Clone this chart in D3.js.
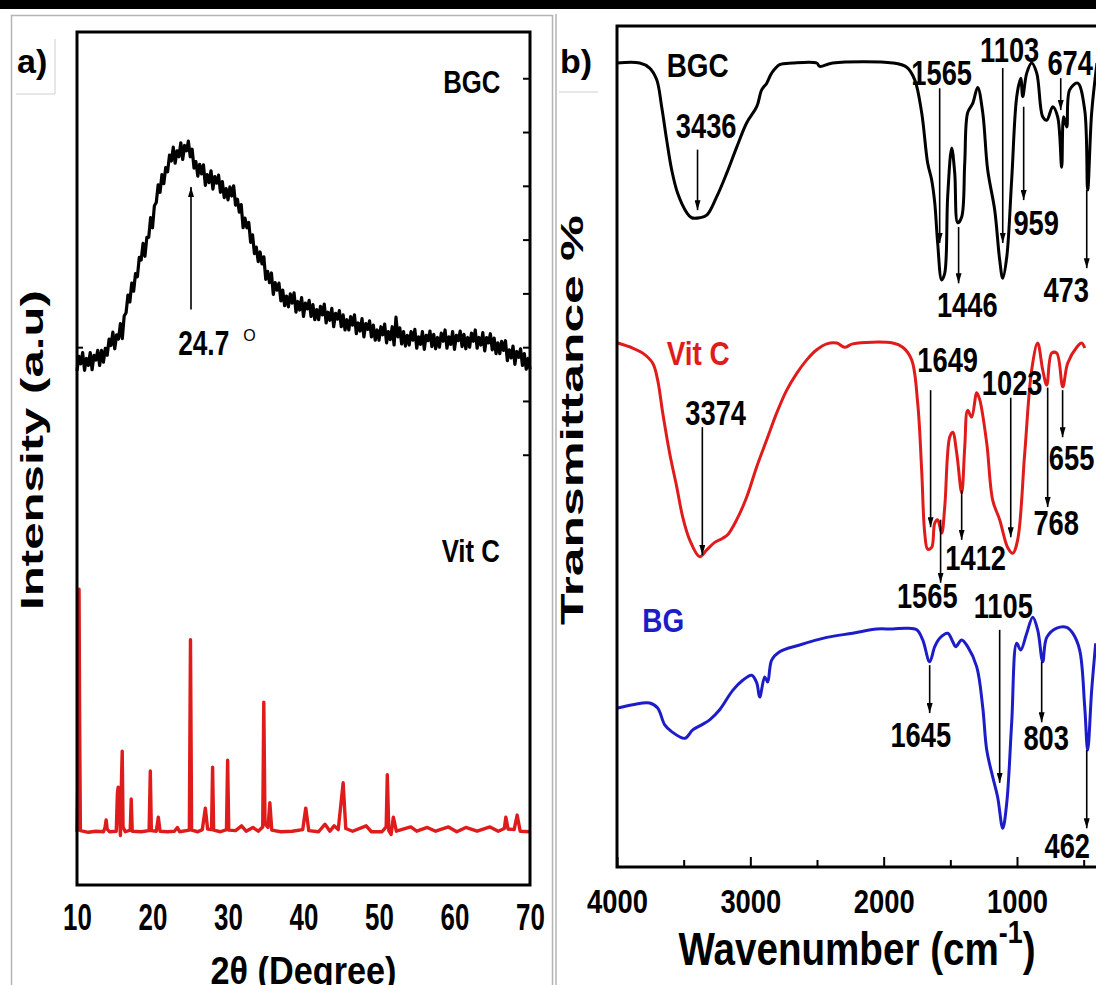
<!DOCTYPE html>
<html>
<head>
<meta charset="utf-8">
<script src="https://cdn.jsdelivr.net/npm/d3@7"></script>
<style>
  body { margin: 0; background: #fff; }
  svg text { font-family: "Liberation Sans", Arial, sans-serif; font-weight: bold; }
</style>
</head>
<body>
<div id="chart"></div>
<script>
// ---------------- panel a : XRD ----------------
const xrdTicks = [10, 20, 30, 40, 50, 60, 70];
const xrdRightTicks = [80, 90, 100, 110, 120, 130, 140, 150];
const xrdLeftTicks = [100];

// BGC pattern, sampled every 0.25 deg from 10 deg
const bgcXrdStart = 10, bgcXrdStep = 0.25;
const bgcXrd = [
  95.6, 98.3, 96.9, 99.0, 95.7, 97.9, 96.6, 99.0, 95.8, 98.5, 97.6, 99.4,
  96.6, 99.4, 97.2, 99.8, 98.5, 101.5, 100.3, 102.8, 99.7, 102.3, 101.5, 104.4,
  101.6, 105.8, 106.4, 109.7, 108.4, 111.9, 110.4, 113.7, 113.1, 116.7, 116.2, 119.3,
  116.9, 120.4, 120.4, 124.1, 122.2, 126.3, 126.9, 130.2, 128.8, 132.1, 130.4, 133.4,
  132.6, 135.7, 134.6, 137.2, 134.2, 136.5, 135.4, 138.0, 134.9, 137.5, 136.5, 138.3,
  135.4, 136.8, 133.3, 134.5, 131.8, 134.0, 132.2, 133.9, 130.1, 132.1, 130.6, 132.8,
  129.4, 131.7, 130.5, 132.0, 128.8, 130.8, 127.8, 129.5, 127.4, 129.8, 128.1, 130.0,
  126.4, 127.5, 125.1, 126.5, 122.2, 124.0, 122.2, 123.2, 119.5, 120.9, 117.4, 118.6,
  115.9, 117.7, 115.5, 116.8, 112.6, 114.1, 112.0, 113.8, 109.8, 112.0, 110.6, 111.9,
  108.6, 110.6, 107.7, 109.5, 107.5, 109.9, 108.2, 110.1, 106.5, 108.5, 106.9, 109.2,
  105.7, 108.2, 107.1, 108.7, 105.7, 107.9, 105.1, 107.0, 105.1, 107.6, 106.0, 108.0,
  104.5, 106.5, 105.0, 107.2, 103.8, 106.3, 105.2, 106.8, 103.8, 106.0, 103.2, 105.1,
  103.2, 105.7, 104.1, 106.0, 102.5, 104.5, 103.0, 105.3, 101.9, 104.4, 103.3, 104.9,
  101.9, 104.1, 101.3, 103.2, 101.3, 103.8, 102.3, 104.3, 100.8, 102.9, 101.4, 103.8,
  100.4, 105.6, 101.9, 103.6, 100.6, 102.9, 100.2, 102.2, 100.4, 102.9, 101.3, 103.3,
  99.8, 101.9, 100.5, 102.9, 99.6, 102.2, 101.2, 103.0, 100.1, 102.4, 99.7, 101.8,
  100.0, 102.6, 101.1, 103.2, 99.8, 101.9, 100.5, 102.9, 99.6, 102.2, 101.2, 103.0,
  100.1, 102.4, 99.7, 101.8, 100.0, 102.6, 101.1, 103.2, 99.8, 101.8, 100.4, 102.7,
  99.3, 101.8, 100.8, 102.5, 99.5, 101.7, 98.8, 100.8, 98.8, 101.1, 99.4, 101.2,
  97.5, 99.5, 98.0, 100.2, 96.8, 99.2, 98.1, 99.7, 96.6, 98.8, 95.9, 97.9,
  95.9
];

// Vit C pattern [2theta, intensity]
const vitcXrd = [
  [10.0, 9.9], [10.12, 20], [10.2, 50], [10.27, 55.0], [10.35, 30], [10.45, 10.1],
  [11.5, 9.8], [12.5, 10.0], [13.5, 9.9], [13.7, 10.6], [13.86, 12.1], [14.0, 10.4],
  [14.3, 9.9], [15.2, 10.0], [15.35, 17.0], [15.45, 18.2], [15.55, 15.5], [15.75, 9.2],
  [15.9, 20.0], [15.99, 24.9], [16.1, 10.8], [16.4, 9.9], [17.05, 10.2], [17.18, 16.0],
  [17.32, 10.0], [18.5, 9.9], [19.55, 10.1], [19.71, 21.2], [19.85, 10.1], [20.5, 10.0],
  [20.77, 12.6], [21.0, 10.0], [22.0, 9.9], [22.9, 10.0], [23.3, 10.7], [23.6, 9.9],
  [24.88, 10.2], [25.03, 45.6], [25.18, 10.2], [26.0, 9.9], [26.6, 10.3], [27.0, 14.3],
  [27.3, 10.4], [27.82, 10.3], [27.96, 21.9], [28.1, 10.2], [29.0, 9.9], [29.8, 10.3],
  [29.95, 23.2], [30.1, 10.2], [31.0, 10.1], [31.8, 11.0], [32.4, 10.0], [33.3, 10.7],
  [34.0, 10.0], [34.6, 10.8], [34.74, 34.0], [34.9, 11.4], [35.3, 10.7], [35.54, 15.3],
  [35.8, 10.2], [37.0, 9.9], [38.5, 10.0], [39.9, 10.3], [40.3, 14.3], [40.7, 10.1],
  [42.0, 9.9], [42.85, 11.3], [43.5, 10.0], [44.05, 11.0], [44.6, 10.3], [45.25, 19.0],
  [45.6, 10.5], [46.5, 10.0], [48.3, 11.0], [49.0, 9.9], [50.4, 9.9], [50.95, 10.8],
  [51.1, 20.5], [51.3, 10.1], [51.6, 9.4], [51.9, 12.6], [52.3, 10.0], [54.2, 10.8],
  [55.0, 10.0], [56.4, 10.7], [57.5, 10.0], [59.2, 10.8], [60.3, 9.9], [61.5, 10.7],
  [63.0, 10.0], [64.7, 10.8], [65.8, 10.0], [66.6, 10.5], [66.8, 12.6], [67.1, 10.4],
  [67.9, 10.3], [68.3, 13.0], [68.7, 10.0], [70.0, 9.9]
];

const xrdPeak = { text: "24.7", at: 25.1, from: 107, to: 129.8, lx: 23.4, ly: 98.6 };
const xrdNames = [
  { text: "BGC", x: 58.5, y: 147.3 },
  { text: "Vit C", x: 58.3, y: 60.1 }
];

// ---------------- panel b : FTIR ----------------
const ftirTicks = [4000, 3000, 2000, 1000];
const ftirMinorTicks = [3500, 2500, 1500, 500];

const bgcFtir = [
  [4000, 95.6], [3830, 95.6], [3755, 95.0], [3702, 93.6], [3665, 90.4], [3627, 86.4],
  [3590, 82.9], [3545, 80.1], [3477, 77.8], [3440, 77.2], [3380, 77.2], [3327, 77.5],
  [3252, 79.7], [3177, 82.5], [3102, 85.6], [3027, 88.5], [2952, 90.4], [2915, 92.4],
  [2877, 93.2], [2840, 94.4], [2780, 95.4], [2682, 95.6], [2502, 95.6], [2480, 95.2],
  [2382, 95.6], [1932, 95.6], [1827, 95.1], [1767, 93.6], [1715, 89.7], [1670, 83.7],
  [1640, 81.7], [1617, 79.0], [1595, 74.2], [1565, 69.8], [1542, 70.6], [1520, 79.7],
  [1490, 85.5], [1467, 82.5], [1445, 76.6], [1415, 77.3], [1392, 83.7], [1370, 89.7],
  [1332, 90.8], [1295, 92.7], [1257, 89.7], [1220, 82.9], [1167, 78.1], [1130, 72.2],
  [1107, 70.0], [1077, 72.5], [1040, 81.7], [1002, 91.6], [972, 93.8], [957, 91.6],
  [927, 94.4], [890, 95.6], [852, 94.4], [807, 89.2], [777, 88.8], [732, 90.4],
  [695, 89.2], [665, 83.2], [650, 89.2], [627, 88.0], [605, 92.4], [545, 93.2],
  [492, 90.0], [470, 80.5], [440, 89.7], [400, 95.6]
];

const vitcFtir = [
  [3995, 62.3], [3882, 61.7], [3807, 61.1], [3732, 59.9], [3695, 57.9], [3657, 54.0],
  [3605, 49.2], [3552, 45.2], [3507, 41.6], [3455, 38.9], [3380, 36.9], [3327, 37.7],
  [3267, 38.6], [3207, 39.1], [3170, 39.5], [3102, 41.3], [3027, 44.0], [2952, 47.6],
  [2877, 50.8], [2802, 54.0], [2727, 56.7], [2652, 58.7], [2577, 60.3], [2502, 61.5],
  [2427, 62.2], [2352, 62.3], [2292, 61.8], [2232, 62.2], [1932, 62.3], [1857, 61.8],
  [1790, 60.3], [1745, 55.2], [1715, 47.2], [1692, 39.7], [1670, 37.8], [1640, 38.0],
  [1617, 40.9], [1595, 41.3], [1565, 39.7], [1542, 42.8], [1505, 51.1], [1482, 51.7],
  [1452, 49.2], [1415, 44.5], [1392, 49.9], [1370, 54.3], [1340, 53.5], [1302, 56.4],
  [1280, 55.6], [1227, 50.4], [1182, 43.6], [1130, 41.3], [1070, 38.0], [1032, 37.3],
  [995, 38.9], [942, 49.2], [890, 59.1], [845, 62.3], [807, 59.1], [777, 57.3],
  [740, 61.1], [702, 61.1], [657, 57.1], [620, 59.9], [552, 61.8], [515, 62.3], [492, 61.7]
];

const bgFtir = [
  [3995, 18.9], [3882, 19.3], [3755, 19.5], [3695, 18.9], [3642, 16.9], [3590, 16.1],
  [3492, 15.3], [3432, 16.3], [3365, 16.9], [3305, 17.5], [3230, 18.7], [3132, 21.0],
  [3057, 22.2], [2990, 22.8], [2952, 21.9], [2930, 20.2], [2892, 22.6], [2870, 22.0],
  [2840, 24.6], [2780, 25.6], [2630, 26.4], [2427, 27.3], [2232, 27.8], [2052, 28.3],
  [1932, 28.3], [1827, 28.4], [1752, 28.2], [1707, 27.0], [1655, 24.4], [1617, 26.2],
  [1580, 27.2], [1520, 27.8], [1482, 26.8], [1460, 26.2], [1415, 27.0], [1370, 26.2],
  [1302, 23.8], [1257, 19.0], [1227, 13.9], [1182, 10.7], [1145, 8.3], [1107, 4.6],
  [1077, 7.6], [1040, 17.1], [1002, 26.6], [972, 25.8], [927, 27.8], [882, 29.7],
  [845, 28.2], [807, 24.4], [777, 27.3], [702, 28.4], [627, 28.5], [582, 27.8],
  [530, 25.8], [492, 19.0], [470, 13.9], [440, 21.0], [410, 26.6]
];

// band labels: arrow at wavenumber "at" from/to (transmittance), label centre lx/ly
const bgcBands = [
  { text: "3436", at: 3396, from: 85.3, to: 78.1, lx: 3331, ly: 86.7 },
  { text: "1565", at: 1580, from: 92.6, to: 74.2, lx: 1565, ly: 93.0 },
  { text: "1446", at: 1438, from: 76.1, to: 69.4, lx: 1373, ly: 65.4 },
  { text: "1103", at: 1107, from: 95.0, to: 74.2, lx: 1055, ly: 95.7 },
  { text: "959", at: 950, from: 90.4, to: 79.3, lx: 856, ly: 75.1 },
  { text: "674", at: 672, from: 93.8, to: 90.0, lx: 601, ly: 94.2 },
  { text: "473", at: 477, from: 80.5, to: 71.2, lx: 631, ly: 67.2 }
];
const vitcBands = [
  { text: "3374", at: 3360, from: 52.3, to: 37.1, lx: 3260, ly: 52.6 },
  { text: "1649", at: 1648, from: 56.7, to: 40.4, lx: 1520, ly: 58.9 },
  { text: "1023", at: 1047, from: 55.8, to: 39.2, lx: 1036, ly: 56.1 },
  { text: "655", at: 658, from: 56.7, to: 51.1, lx: 590, ly: 47.2 },
  { text: "768", at: 770, from: 57.0, to: 42.8, lx: 706, ly: 39.5 },
  { text: "1412", at: 1415, from: 44.8, to: 38.9, lx: 1310, ly: 35.3 },
  { text: "1565", at: 1573, from: 41.3, to: 33.8, lx: 1673, ly: 30.8 }
];
const bgBands = [
  { text: "1105", at: 1130, from: 28.2, to: 10.0, lx: 1103, ly: 29.6 },
  { text: "1645", at: 1655, from: 24.0, to: 18.3, lx: 1722, ly: 14.3 },
  { text: "803", at: 815, from: 24.4, to: 17.2, lx: 781, ly: 13.9 },
  { text: "462", at: 477, from: 13.9, to: 4.6, lx: 623, ly: 1.1 }
];
const ftirNames = [
  { text: "BGC", x: 3627, y: 93.9, key: "bgc" },
  { text: "Vit C", x: 3627, y: 59.7, key: "vitc" },
  { text: "BG", x: 3810, y: 27.9, key: "bg" }
];

const colors = { bgc: "#000000", vitc: "#e01b1b", bg: "#1c1cc8" };

// ---------------- drawing ----------------
const svg = d3.select("#chart").append("svg")
  .attr("width", 1096).attr("height", 985);

function squeeze(sel, k) {
  sel.each(function () {
    const w = this.getComputedTextLength();
    d3.select(this).attr("textLength", (w * k).toFixed(1)).attr("lengthAdjust", "spacingAndGlyphs");
  });
  return sel;
}

svg.append("defs").append("marker")
  .attr("id", "arr").attr("viewBox", "0 0 10 6")
  .attr("refX", 10).attr("refY", 3)
  .attr("markerWidth", 10).attr("markerHeight", 6)
  .attr("markerUnits", "userSpaceOnUse").attr("orient", "auto")
  .append("path").attr("d", "M0,0L10,3L0,6z").attr("fill", "#000");

// page decoration
svg.append("rect").attr("x", 0).attr("y", 0).attr("width", 1096).attr("height", 9).attr("fill", "#000");
svg.append("rect").attr("x", 11.5).attr("y", 15.5).attr("width", 541).attr("height", 1000)
  .attr("fill", "none").attr("stroke", "#b4b4b4").attr("stroke-width", 1.5);
svg.append("line").attr("x1", 556).attr("x2", 556).attr("y1", 14).attr("y2", 985)
  .attr("stroke", "#b4b4b4").attr("stroke-width", 1.5);
svg.append("path").attr("d", "M55,39V94H16").attr("fill", "none").attr("stroke", "#d0d0d0");
svg.append("path").attr("d", "M559,92H598").attr("fill", "none").attr("stroke", "#d0d0d0");
svg.append("text").attr("x", 17).attr("y", 73).attr("font-size", 34).text("a)");
svg.append("text").attr("x", 560).attr("y", 73).attr("font-size", 34).text("b)");

// ---- panel a ----
const A = { left: 77, right: 530, top: 32, bottom: 885 };
const xA = d3.scaleLinear().domain([10, 70]).range([A.left, A.right]);
const yA = d3.scaleLinear().domain([0, 158.6]).range([A.bottom, A.top]);
const gA = svg.append("g");

gA.append("path").datum(vitcXrd)
  .attr("d", d3.line().x(d => xA(d[0])).y(d => yA(d[1])))
  .attr("fill", "none").attr("stroke", colors.vitc).attr("stroke-width", 3.4)
  .attr("stroke-linejoin", "round");

gA.append("path").datum(bgcXrd)
  .attr("d", d3.line().x((d, i) => xA(bgcXrdStart + i * bgcXrdStep)).y(d => yA(d)))
  .attr("fill", "none").attr("stroke", colors.bgc).attr("stroke-width", 3.2)
  .attr("stroke-linejoin", "round");

gA.append("rect").attr("x", A.left).attr("y", A.top)
  .attr("width", A.right - A.left).attr("height", A.bottom - A.top)
  .attr("fill", "none").attr("stroke", "#000").attr("stroke-width", 3);

const axA = gA.append("g").attr("transform", `translate(0,${A.bottom})`)
  .call(d3.axisBottom(xA).tickValues(xrdTicks).tickFormat(d3.format("d")).tickSize(0).tickPadding(19));
axA.select(".domain").remove();
axA.selectAll("text").attr("font-size", 36).attr("fill", "#000");
squeeze(axA.selectAll("text"), 0.72);

gA.append("g").attr("transform", `translate(${A.right},0)`)
  .call(d3.axisLeft(yA).tickValues(xrdRightTicks).tickSize(7).tickFormat(""))
  .call(g => g.select(".domain").remove())
  .selectAll("line").attr("stroke-width", 2);
gA.append("g").attr("transform", `translate(${A.left},0)`)
  .call(d3.axisRight(yA).tickValues(xrdLeftTicks).tickSize(6).tickFormat(""))
  .call(g => g.select(".domain").remove())
  .selectAll("line").attr("stroke-width", 2);

gA.append("line")
  .attr("x1", xA(xrdPeak.at)).attr("x2", xA(xrdPeak.at))
  .attr("y1", yA(xrdPeak.from)).attr("y2", yA(xrdPeak.to))
  .attr("stroke", "#000").attr("stroke-width", 1.6).attr("marker-end", "url(#arr)");
const pk = gA.append("text").attr("x", xA(xrdPeak.lx)).attr("y", yA(xrdPeak.ly))
  .attr("font-size", 35).text(xrdPeak.text);
squeeze(pk, 0.75);
gA.append("text").attr("x", xA(xrdPeak.lx) + 65).attr("y", yA(xrdPeak.ly) - 14)
  .attr("font-size", 16).style("font-weight", "normal").text("O");

xrdNames.forEach(n => {
  const t = gA.append("text").attr("x", xA(n.x)).attr("y", yA(n.y)).attr("font-size", 31).text(n.text);
  squeeze(t, 0.83);
});

const labA = gA.append("text").attr("x", (A.left + A.right) / 2).attr("y", 984)
  .attr("text-anchor", "middle").attr("font-size", 38).text("2θ (Degree)");
squeeze(labA, 0.9);

svg.append("text")
  .attr("transform", "translate(43,450) rotate(-90)")
  .attr("text-anchor", "middle").attr("font-size", 31)
  .attr("textLength", 320).attr("lengthAdjust", "spacingAndGlyphs")
  .text("Intensity (a.u)");

// ---- panel b ----
const B = { left: 617, right: 1097, top: 26, bottom: 867 };
const xB = d3.scaleLinear().domain([4000, 400]).range([B.left, B.right]);
const yB = d3.scaleLinear().domain([0, 100]).range([B.bottom, B.top]);
const gB = svg.append("g");

const ftirLine = d3.line().x(d => xB(d[0])).y(d => yB(d[1])).curve(d3.curveCatmullRom.alpha(0.5));
[[bgcFtir, "bgc"], [vitcFtir, "vitc"], [bgFtir, "bg"]].forEach(([data, key]) => {
  gB.append("path").datum(data).attr("d", ftirLine)
    .attr("fill", "none").attr("stroke", colors[key]).attr("stroke-width", 3)
    .attr("stroke-linejoin", "round");
});

gB.append("path")
  .attr("d", `M${B.right},${B.bottom}H${B.left}V${B.top}H${B.right}`)
  .attr("fill", "none").attr("stroke", "#000").attr("stroke-width", 3);

const axB = gB.append("g").attr("transform", `translate(0,${B.bottom})`)
  .call(d3.axisBottom(xB).tickValues(ftirTicks).tickFormat(d3.format("d")).tickSize(-10).tickPadding(23));
axB.select(".domain").remove();
axB.selectAll("line").attr("stroke-width", 2);
axB.selectAll("text").attr("font-size", 33).attr("fill", "#000");
squeeze(axB.selectAll("text"), 0.83);
gB.append("g").attr("transform", `translate(0,${B.bottom})`)
  .call(d3.axisBottom(xB).tickValues(ftirMinorTicks).tickSize(-7).tickFormat(""))
  .call(g => g.select(".domain").remove())
  .selectAll("line").attr("stroke-width", 2);

[bgcBands, vitcBands, bgBands].forEach(bands => {
  bands.forEach(b => {
    gB.append("line")
      .attr("x1", xB(b.at)).attr("x2", xB(b.at))
      .attr("y1", yB(b.from)).attr("y2", yB(b.to))
      .attr("stroke", "#000").attr("stroke-width", 1.6).attr("marker-end", "url(#arr)");
    const t = gB.append("text").attr("x", xB(b.lx)).attr("y", yB(b.ly))
      .attr("text-anchor", "middle").attr("font-size", 35).text(b.text);
    squeeze(t, 0.78);
  });
});

ftirNames.forEach(n => {
  const t = gB.append("text").attr("x", xB(n.x)).attr("y", yB(n.y))
    .attr("font-size", 34).attr("fill", colors[n.key]).text(n.text);
  squeeze(t, 0.82);
});

const labB = gB.append("text").attr("x", 857).attr("y", 965)
  .attr("text-anchor", "middle").attr("font-size", 46);
labB.append("tspan").text("Wavenumber (cm");
labB.append("tspan").attr("dy", -22).attr("font-size", 32).text("-1");
labB.append("tspan").attr("dy", 22).text(")");
labB.attr("textLength", 357).attr("lengthAdjust", "spacingAndGlyphs");

svg.append("text")
  .attr("transform", "translate(583,420) rotate(-90)")
  .attr("text-anchor", "middle").attr("font-size", 31)
  .attr("textLength", 410).attr("lengthAdjust", "spacingAndGlyphs")
  .text("Transmittance %");
</script>
</body>
</html>
